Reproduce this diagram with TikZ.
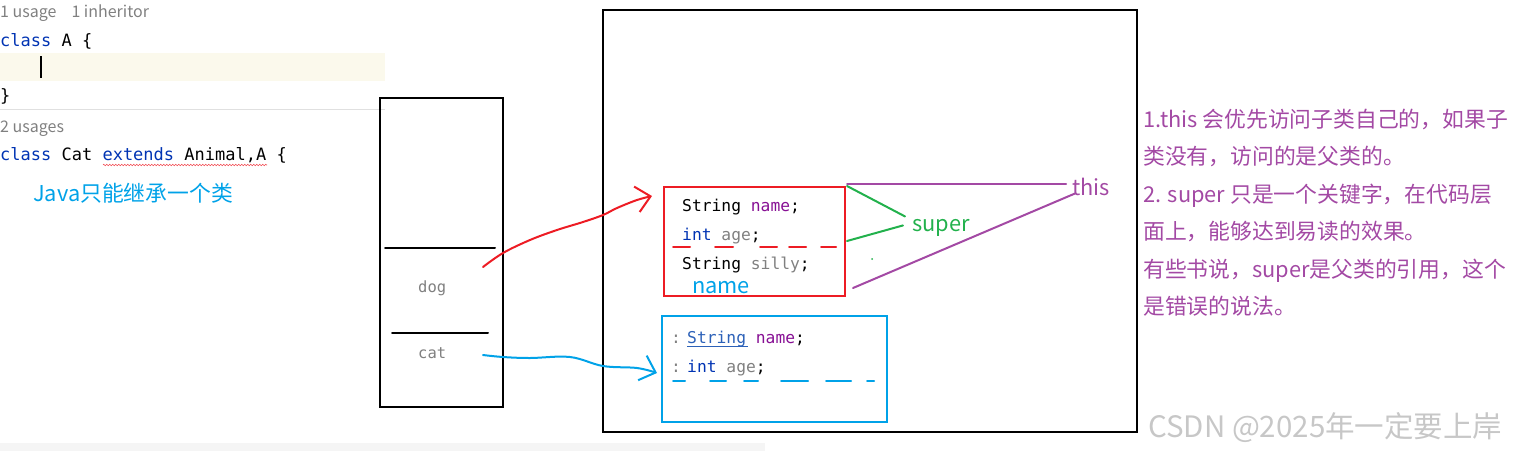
\documentclass[tikz,border=0pt]{standalone}
\usepackage{fontspec}
\setmonofont{DejaVu Sans Mono}
\newfontfamily\cjk{Noto Sans CJK SC}
\usetikzlibrary{arrows.meta,decorations.pathmorphing}
\definecolor{kw}{HTML}{0033B3}
\definecolor{fld}{HTML}{871094}
\definecolor{dim}{HTML}{808080}
\definecolor{lnk}{HTML}{2C61B8}
\definecolor{hl}{HTML}{FBF9EC}
\definecolor{pred}{HTML}{ED1C24}
\definecolor{pblue}{HTML}{00A2E8}
\definecolor{pgreen}{HTML}{22B14C}
\definecolor{ppurple}{HTML}{A349A4}
\tikzset{code/.style={anchor=base west,inner sep=0pt,font=\ttfamily\fontsize{17}{20}\selectfont},small/.style={code,font=\ttfamily\fontsize{16.3}{20}\selectfont},hint/.style={anchor=base west,inner sep=0pt,text=dim,font=\cjk\fontsize{16}{18}\selectfont},note/.style={anchor=base west,inner sep=0pt,font=\cjk\fontsize{21.8}{26}\selectfont},frame/.style={draw,line width=2pt,inner sep=0pt},pen/.style={line width=2pt,line cap=round},ptr/.style={pen,-{Straight Barb[length=14pt,width=26pt]}}}

\begin{document}
\begin{tikzpicture}[x=1pt,y=-1pt]
\useasboundingbox (0,0) rectangle (1513,451);
% editor part
\fill[hl] (0,53) rectangle (385,81);
\draw[black!12] (0,109)--(385,109);
\fill[black!4] (0,443) rectangle (765,451);
\node[hint] (use1) at (0,17) {1 usage\hspace{15pt}1 inheritor};
\node[code] (clsA) at (0,46) {\textcolor{kw}{class} A \{};
\draw[line width=1.5pt] (41,56)--(41,78);
\node[code] (endA) at (0,101) {\}};
\node[hint] (use2) at (0,132) {2 usages};
\node[code] (clsCat) at (0,160) {\textcolor{kw}{class} Cat \textcolor{kw}{extends} Animal,A \{};
\draw[pred!80,line width=0.6pt,decorate,decoration={zigzag,amplitude=0.8pt,segment length=3pt}] (103,165)--(267,165);
\node[note,text=pblue] (only) at (33,201) {Java只能继承一个类};
% stack
\node[frame,minimum width=123,minimum height=309] (stack) at (441.5,252.5) {};
\draw[pen] (385,248)--(495,248);
\draw[pen] (392,333)--(488,333);
\node[code,font=\ttfamily\fontsize{15.5}{18}\selectfont,text=dim] (dog) at (418,292) {dog};
\node[code,font=\ttfamily\fontsize{15.5}{18}\selectfont,text=dim] (cat) at (418,358) {cat};
\coordinate (dogref) at (483,267);
\coordinate (catref) at (483,355);
% heap
\node[frame,minimum width=534,minimum height=422] (heap) at (870,221) {};
\node[frame,draw=pred,minimum width=181,minimum height=109] (dogobj) at (754.5,241.5) {};
\node[small] (f1) at (682,211) {String \textcolor{fld}{name};};
\node[small] (f2) at (682,240) {\textcolor{kw}{int} \textcolor{dim}{age};};
\node[small] (f3) at (682,269) {String \textcolor{dim}{silly};};
\node[note,text=pblue] (nm) at (692,293) {name};
\foreach \a/\b in {673/690,715/733,760/777,789/806,821/836} \draw[pen,pred] (\a,247)--(\b,247);
\node[frame,draw=pblue,minimum width=225,minimum height=106] (catobj) at (774.5,369) {};
\node[small,text=dim] (g1) at (671,343) {:};
\node[small] (s1) at (687,343) {\textcolor{lnk}{String} \textcolor{fld}{name};};
\draw[lnk,line width=0.8pt] (687,346)--(748,346);
\node[small,text=dim] (g2) at (671,372) {:};
\node[small] (s2) at (687,372) {\textcolor{kw}{int} \textcolor{dim}{age};};
\foreach \a/\b in {673/685,710/726,744/758,781/808,826/851,867/874} \draw[pen,pblue] (\a,381)--(\b,381);
% pointers
\draw[ptr,pred] plot[smooth,tension=0.6] coordinates {(dogref) (503,253) (530,240) (557,230) (583,222) (603,215) (617,208) (637,200) ([xshift=-11pt,yshift=-10pt]dogobj.north west)};
\draw[ptr,pblue] plot[smooth,tension=0.6] coordinates {(catref) (503,357) (530,358) (570,357) (603,366) (637,368) ([xshift=-4pt,yshift=-4pt]catobj.west)};
% this / super
\node[note,text=ppurple] (thislbl) at (1072,195) {this};
\node[note,text=pgreen] (superlbl) at (912,231) {super};
\draw[pen,ppurple] (847,184)--([xshift=-6pt]thislbl.west |- 0,184);
\draw[pen,ppurple] (853,288)--([xshift=3pt,yshift=2pt]thislbl.south west);
\draw[pen,pgreen] (847,186)--([xshift=-7pt,yshift=11pt]superlbl.west);
\draw[pen,pgreen] (847,241)--([xshift=-9pt,yshift=2pt]superlbl.west);
\fill[pgreen] (872,259) circle (1pt);
% notes
\foreach \t [count=\i from 0] in {1.this 会优先访问子类自己的，如果子,类没有，访问的是父类的。,2. super 只是一个关键字，在代码层,面上，能够达到易读的效果。,有些书说，super是父类的引用，这个,是错误的说法。} \node[note,text=ppurple] (rule\i) at (1143,127+37.5*\i) {\t};
\node[note,font=\cjk\fontsize{29.5}{32}\selectfont,text=black!22] (mark) at (1148,437) {CSDN @2025年一定要上岸};
\end{tikzpicture}
\end{document}
